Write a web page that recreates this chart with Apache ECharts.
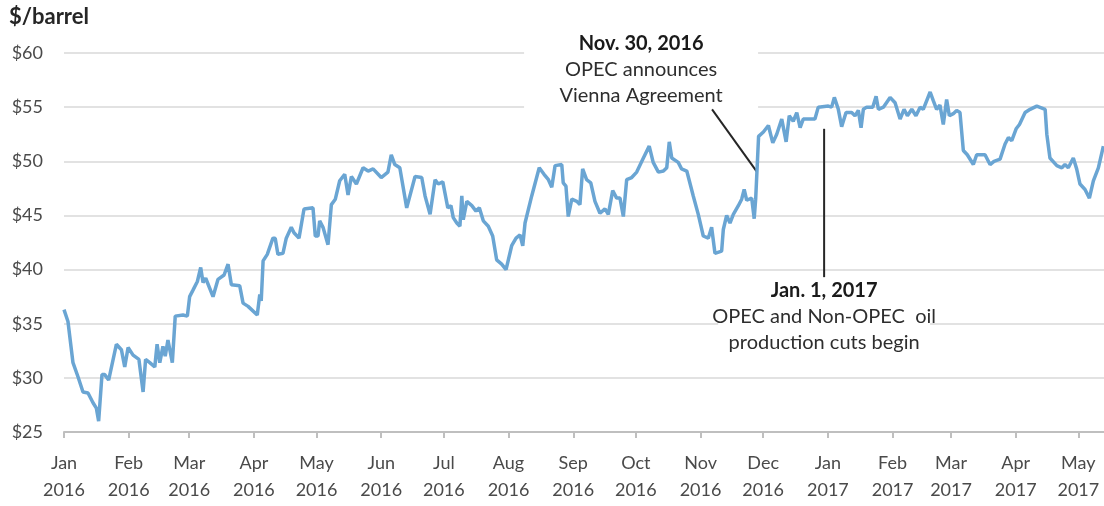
<!DOCTYPE html>
<html><head><meta charset="utf-8">
<script src="https://cdn.jsdelivr.net/npm/echarts@6/dist/echarts.min.js"></script>
<style>html,body{margin:0;padding:0;background:#fff}#c{width:1104px;height:506px}</style>
</head><body><div id="c"></div>
<script>
const dayOffsets = [0.0,1.9,4.3,6.7,9.1,11.5,13.9,15.5,16.6,18.2,19.5,21.4,25.1,27.5,29.1,30.7,33.1,35.9,37.9,39.1,41.1,43.5,44.6,45.9,47.4,48.5,49.8,51.9,53.3,57.0,59.1,60.2,61.8,63.9,65.5,66.6,67.9,71.4,73.8,76.7,78.6,80.2,84.2,85.8,88.2,92.6,93.8,94.5,95.4,97.4,100.1,101.2,102.5,104.9,106.5,108.9,110.2,112.6,115.0,119.3,120.4,121.7,122.5,124.1,126.5,128.1,130.0,132.1,134.5,136.1,137.7,140.1,143.3,145.7,148.1,152.0,155.2,156.8,158.5,160.9,164.2,168.2,171.4,173.0,175.4,177.8,179.3,181.5,183.9,185.4,186.5,188.2,189.7,190.6,191.3,193.0,195.4,197.4,199.0,200.9,203.3,205.4,207.3,209.7,211.8,214.5,216.6,218.5,219.8,220.9,224.1,227.7,230.0,232.1,233.7,235.3,238.5,239.2,240.5,241.6,243.3,245.7,247.2,248.5,250.4,252.4,254.4,256.8,259.2,260.8,262.9,264.8,266.4,268.0,269.6,272.0,274.4,277.6,280.4,282.3,284.8,287.2,288.8,290.0,291.2,294.3,295.9,298.4,301.5,303.9,306.3,308.7,310.3,311.9,315.1,315.9,317.5,319.1,320.7,323.1,324.7,325.9,327.1,329.5,330.7,331.4,332.8,335.1,337.5,339.6,341.5,343.9,346.0,347.5,349.4,351.1,352.7,354.2,359.8,361.4,366.2,367.8,369.1,371.0,372.6,374.7,377.4,379.0,380.6,381.9,383.0,384.6,387.5,389.1,390.2,392.6,395.8,398.2,400.6,402.5,404.1,406.2,408.2,410.2,411.7,415.0,416.5,418.1,419.7,421.3,422.9,424.2,426.1,427.7,429.3,430.9,432.8,435.7,437.3,441.3,443.7,445.6,448.5,450.9,452.5,454.1,456.2,457.8,460.5,462.9,466.1,470.1,470.9,472.4,475.7,478.1,479.6,481.2,483.6,485.2,486.8,489.2,491.3,493.2,495.6,498.0];
// Price in $/barrel at each point
const prices = [36.3,35.2,31.4,30.1,28.7,28.6,27.7,27.2,26.0,30.3,30.3,29.8,33.1,32.6,31.0,32.8,32.1,31.7,28.7,31.7,31.4,31.0,33.1,31.4,32.9,32.0,33.5,31.4,35.7,35.8,35.7,37.5,38.1,38.9,40.2,38.8,39.2,37.5,39.1,39.5,40.5,38.6,38.5,36.9,36.6,35.8,37.7,37.1,40.8,41.4,42.9,42.9,41.4,41.5,42.9,43.9,43.4,42.9,45.6,45.7,43.1,43.1,44.5,43.9,42.3,46.0,46.5,48.2,48.8,46.9,48.6,47.9,49.4,49.1,49.3,48.5,49.0,50.6,49.7,49.4,45.7,48.6,48.5,46.8,45.1,48.3,47.9,48.1,45.7,45.9,44.8,44.3,44.0,46.8,44.6,46.3,45.9,45.4,45.7,44.5,44.0,43.1,40.9,40.5,40.0,42.2,42.9,43.2,42.2,44.3,46.8,49.4,48.8,48.3,47.6,49.6,49.7,48.0,47.7,44.9,46.5,46.3,46.0,49.3,48.3,48.0,46.3,45.2,45.6,45.1,47.3,46.6,46.6,44.9,48.3,48.5,49.0,50.3,51.4,49.9,49.0,49.1,49.4,51.8,50.3,49.9,49.3,49.1,46.8,45.1,43.1,42.9,43.9,41.5,41.7,43.7,45.0,44.3,45.1,45.9,46.5,47.4,46.4,46.6,44.7,46.5,52.3,52.7,53.3,51.7,52.5,53.9,51.8,54.2,53.7,54.5,53.1,53.9,53.9,55.0,55.1,55.0,55.9,54.8,53.2,54.5,54.5,54.2,54.7,53.1,54.8,55.0,55.0,56.0,54.8,55.0,55.9,55.4,53.9,54.8,54.2,54.8,54.2,55.0,54.8,56.4,55.6,54.8,55.2,53.4,55.7,54.2,54.4,54.7,54.5,51.0,50.6,49.7,50.6,50.6,49.7,50.0,50.2,51.6,52.2,51.9,53.0,53.4,54.5,54.8,55.1,54.8,52.5,50.3,49.6,49.4,49.7,49.4,50.3,49.3,47.9,47.4,46.6,48.2,49.4,51.4];
const yTicks = [25, 30, 35, 40, 45, 50, 55, 60];
const monthNames = ['Jan','Feb','Mar','Apr','May','Jun','Jul','Aug','Sep','Oct','Nov','Dec'];
const tickMonths = [[2016,0],[2016,1],[2016,2],[2016,3],[2016,4],[2016,5],[2016,6],[2016,7],[2016,8],[2016,9],[2016,10],[2016,11],[2017,0],[2017,1],[2017,2],[2017,3],[2017,4]];
const axisEndDay = 498.3;   // ~May 13, 2017
const yAxisTitle = '$/barrel';
const note1 = {lines: ['Nov. 30, 2016', 'OPEC announces', 'Vienna Agreement'], day: 276.5, value: 60.9};
const note2 = {lines: ['Jan. 1, 2017', 'OPEC and Non-OPEC  oil', 'production cuts begin'], day: 364.2, value: 38.1};
const leader1 = [[310.5, 54.8], [332.1, 49.0]];
const leader2 = [[364.2, 53.0], [364.2, 39.3]];

const DAY = 86400000;
const start = Date.UTC(2016, 0, 1);
const tickDays = tickMonths.map(([y, m]) => Math.round((Date.UTC(y, m, 1) - start) / DAY));
const series = dayOffsets.map((d, i) => [d, prices[i]]);
const FONT = 'Lato, "Open Sans", sans-serif';

const chart = echarts.init(document.getElementById('c'), null, {renderer: 'canvas'});
chart.setOption({
  animation: false,
  grid: {left: 64, right: 0, top: 53, bottom: 74, containLabel: false},
  xAxis: {
    type: 'value', min: 0, max: axisEndDay,
    splitLine: {show: false},
    axisLine: {show: true, lineStyle: {color: '#bfbfbf', width: 2}},
    axisTick: {show: true, customValues: tickDays, length: 6, lineStyle: {color: '#bfbfbf', width: 2}},
    axisLabel: {
      customValues: tickDays, margin: 18, fontSize: 18, lineHeight: 27, color: '#4a4a4a', fontFamily: FONT,
      formatter: v => { const d = new Date(start + Math.round(v) * DAY); return monthNames[d.getUTCMonth()] + '\n' + d.getUTCFullYear(); }
    }
  },
  yAxis: {
    type: 'value', min: yTicks[0], max: yTicks[yTicks.length - 1], interval: 5,
    axisLine: {show: false}, axisTick: {show: false},
    splitLine: {show: true, lineStyle: {color: '#e2e2e2', width: 2}},
    axisLabel: {margin: 21, fontSize: 18, color: '#4a4a4a', fontFamily: FONT, formatter: v => '$' + v}
  },
  series: [{
    type: 'line', data: series, showSymbol: false, z: 5,
    lineStyle: {color: '#6aa5d3', width: 3.5}
  }]
});

function px(d, v) { return chart.convertToPixel({gridIndex: 0}, [d, v]); }
const g = [];
g.push({type: 'text', left: 9, top: 6, style: {text: yAxisTitle, font: 'bold 22px ' + FONT, fill: '#262626'}});
function addNote(note, boxW, boxPadTop, boxH) {
  const [cx, cy] = px(note.day, note.value);
  g.push({type: 'rect', z: 1, shape: {x: cx - boxW / 2, y: cy - boxPadTop, width: boxW, height: boxH}, style: {fill: '#fff'}});
  note.lines.forEach((t, i) => {
    g.push({type: 'text', z: 3, style: {text: t, x: cx, y: cy + i * 26, align: 'center', verticalAlign: 'middle',
      font: (i === 0 ? 'bold ' : '') + '20px ' + FONT, fill: i === 0 ? '#1a1a1a' : '#2e2e2e'}});
  });
}
addNote(note1, 234, 12, 77);
addNote(note2, 212, 12, 86);
[leader1, leader2].forEach(l => {
  const a = px(l[0][0], l[0][1]), b = px(l[1][0], l[1][1]);
  g.push({type: 'line', z: 4, shape: {x1: a[0], y1: a[1], x2: b[0], y2: b[1]}, style: {stroke: '#262626', lineWidth: 2}});
});
chart.setOption({graphic: g});
</script></body></html>
